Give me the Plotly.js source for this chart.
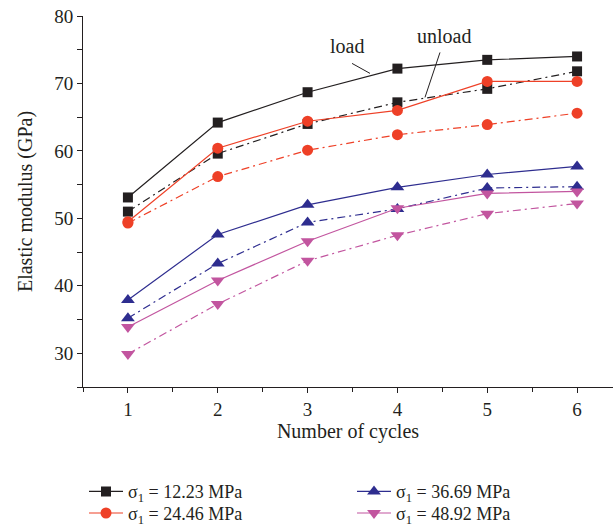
<!DOCTYPE html>
<html>
<head>
<meta charset="utf-8">
<script src="https://cdn.plot.ly/plotly-3.0.1.min.js"></script>
<style>html,body{margin:0;padding:0;background:#fff;}#chart{width:613px;height:528px;}</style>
</head>
<body>
<div id="chart"></div>
<script>
const cycles = [1, 2, 3, 4, 5, 6];
const seriesNames = ["σ<sub>1</sub> = 12.23 MPa", "σ<sub>1</sub> = 24.46 MPa", "σ<sub>1</sub> = 36.69 MPa", "σ<sub>1</sub> = 48.92 MPa"];
const load1223   = [53.1, 64.2, 68.7, 72.2, 73.5, 74.0];
const unload1223 = [51.0, 59.6, 64.0, 67.2, 69.2, 71.8];
const load2446   = [49.5, 60.4, 64.4, 66.0, 70.3, 70.3];
const unload2446 = [49.3, 56.2, 60.1, 62.4, 63.9, 65.6];
const load3669   = [37.9, 47.6, 52.0, 54.6, 56.5, 57.7];
const unload3669 = [35.2, 43.3, 49.4, 51.4, 54.5, 54.7];
const load4892   = [33.9, 40.8, 46.6, 51.5, 53.7, 54.0];
const unload4892 = [29.9, 37.3, 43.7, 47.5, 50.7, 52.2];
const xTicks = [1, 2, 3, 4, 5, 6];
const yTicks = [30, 40, 50, 60, 70, 80];

const colors = ["#231f20", "#ee4027", "#2e2d8f", "#c2559f"];
const symbols = ["square", "circle", "triangle-up", "triangle-down"];
const sizes = [10, 11, 12, 12];
const loads = [load1223, load2446, load3669, load4892];
const unloads = [unload1223, unload2446, unload3669, unload4892];
const legendIds = ["legend", "legend2", "legend3", "legend4"];
const dashDot = "8px,4px,2px,4px";

const traces = [];
for (let i = 0; i < 4; i++) {
  traces.push({
    x: cycles, y: unloads[i], type: "scatter", mode: "lines+markers",
    line: {color: colors[i], width: 1.2, dash: dashDot},
    marker: {color: colors[i], symbol: symbols[i], size: sizes[i]},
    showlegend: false, hoverinfo: "skip"
  });
}
for (let i = 0; i < 4; i++) {
  traces.push({
    x: cycles, y: loads[i], type: "scatter", mode: "lines+markers",
    name: seriesNames[i], legend: legendIds[i],
    line: {color: colors[i], width: 1.2},
    marker: {color: colors[i], symbol: symbols[i], size: sizes[i]}
  });
}

const txt = "#231f20";
const fontFam = "Liberation Serif, Times New Roman, serif";
const plotTop = 16, plotBottom = 387, plotLeft = 83, plotRight = 613;
function mkLegend(px, py) {
  return {
    orientation: "v", font: {family: fontFam, size: 18, color: txt},
    bgcolor: "rgba(0,0,0,0)", borderwidth: 0,
    x: (px - plotLeft) / (plotRight - plotLeft),
    yref: "container", y: 1 - py / 528,
    xanchor: "left", yanchor: "middle", itemwidth: 34
  };
}

const layout = {
  width: 613, height: 528,
  margin: {l: plotLeft, r: 613 - plotRight, t: plotTop, b: 528 - plotBottom},
  paper_bgcolor: "#fff", plot_bgcolor: "#fff",
  font: {family: fontFam, size: 18, color: txt},
  showlegend: true,
  xaxis: {
    range: [0.5, 6.4], tickvals: xTicks, ticktext: xTicks.map(String),
    showgrid: false, zeroline: false, showline: true, linecolor: txt, linewidth: 1,
    ticks: "outside", ticklen: 5, tickcolor: txt, tickwidth: 1,
    minor: {dtick: 0.5, tick0: 0.5, ticks: "outside", ticklen: 4, tickcolor: txt, showgrid: false},
    tickfont: {family: fontFam, size: 19, color: txt},
    title: {text: "Number of cycles", font: {family: fontFam, size: 20, color: txt}, standoff: 1}
  },
  yaxis: {
    range: [25, 80], tickvals: yTicks, ticktext: yTicks.map(String),
    showgrid: false, zeroline: false, showline: true, linecolor: txt, linewidth: 1,
    ticks: "outside", ticklen: 5, tickcolor: txt, tickwidth: 1,
    minor: {dtick: 5, tick0: 25, ticks: "outside", ticklen: 5, tickcolor: txt, showgrid: false},
    tickfont: {family: fontFam, size: 19, color: txt},
    title: {text: "Elastic modulus (GPa)", font: {family: fontFam, size: 20, color: txt}, standoff: 16}
  },
  legend: mkLegend(84, 491.7),
  legend2: mkLegend(84, 513.3),
  legend3: mkLegend(352, 491.7),
  legend4: mkLegend(352, 513.3),
  annotations: [
    {x: 3.44, y: 75.5, xref: "x", yref: "y", text: "load", showarrow: false,
     font: {family: fontFam, size: 20, color: txt}},
    {x: 4.515, y: 76.97, xref: "x", yref: "y", text: "unload", showarrow: false,
     font: {family: fontFam, size: 20, color: txt}}
  ],
  shapes: [
    {type: "line", xref: "x", yref: "y", x0: 3.495, y0: 72.97, x1: 3.695, y1: 71.49,
     line: {color: txt, width: 1}},
    {type: "line", xref: "x", yref: "y", x0: 4.474, y0: 74.6, x1: 4.307, y1: 67.93,
     line: {color: txt, width: 1}}
  ]
};

Plotly.newPlot("chart", traces, layout, {displayModeBar: false, staticPlot: true});
</script>
</body>
</html>
